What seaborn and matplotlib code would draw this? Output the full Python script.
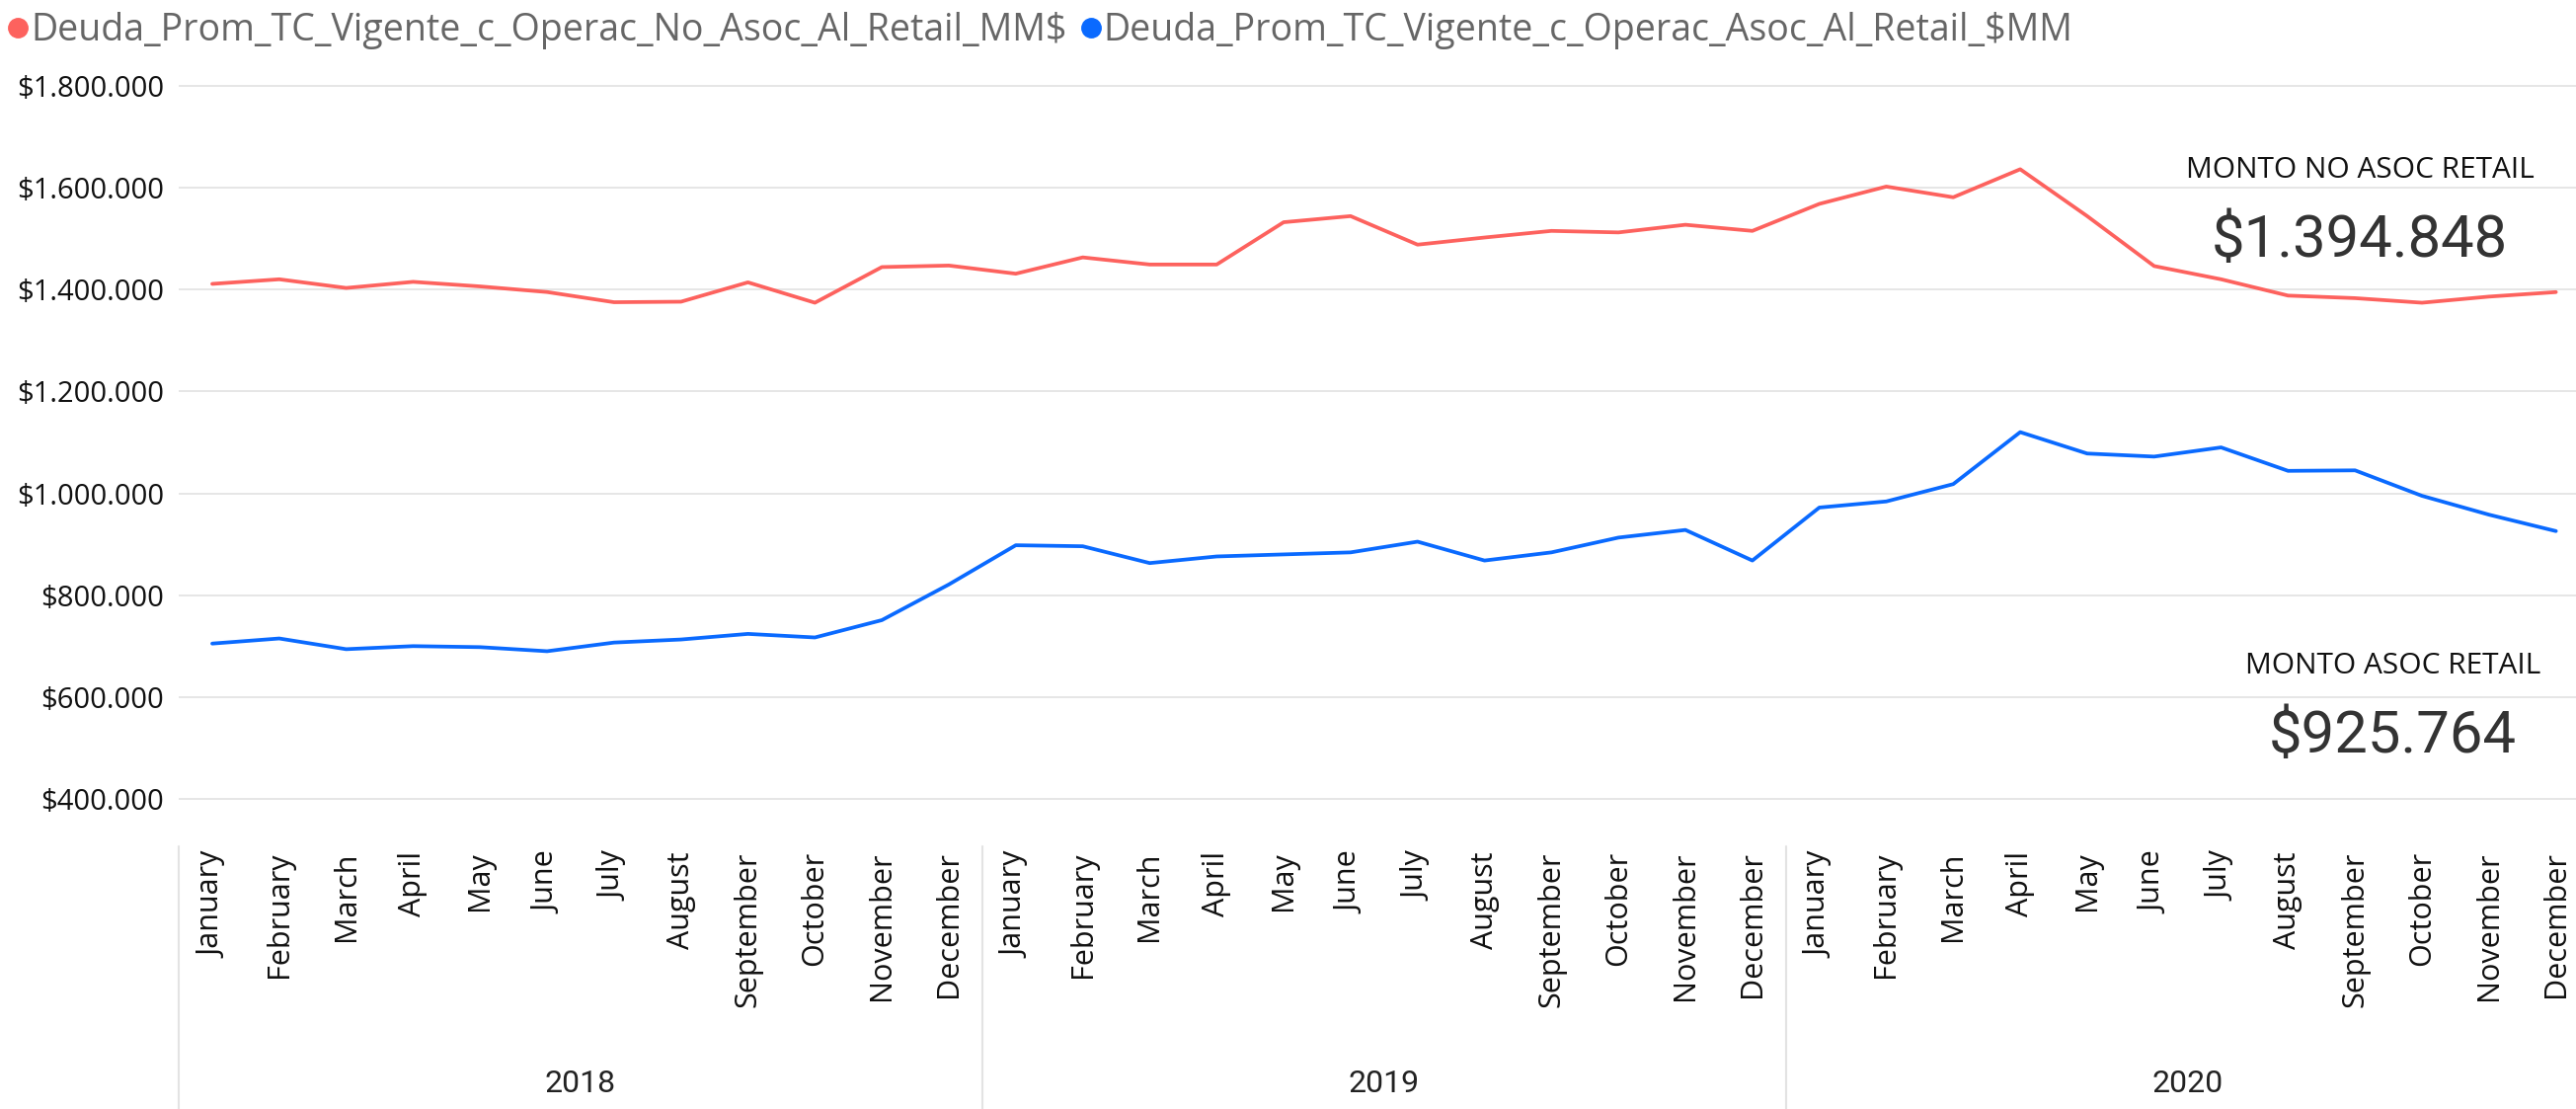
import matplotlib
matplotlib.use("Agg")
import matplotlib.pyplot as plt
import matplotlib.transforms as mtransforms
from matplotlib.lines import Line2D
from matplotlib.ticker import FuncFormatter
import pandas as pd
import seaborn as sns

# datos
years = ["2018", "2019", "2020"]
months = ["January", "February", "March", "April", "May", "June", "July",
          "August", "September", "October", "November", "December"]

serie_no_asoc = "Deuda_Prom_TC_Vigente_c_Operac_No_Asoc_Al_Retail_MM$"
serie_asoc = "Deuda_Prom_TC_Vigente_c_Operac_Asoc_Al_Retail_$MM"

no_asoc_vals = [
    1411000, 1420000, 1403000, 1415000, 1406000, 1395000, 1375000, 1376000, 1414000, 1374000, 1444000, 1447000,
    1431000, 1463000, 1449000, 1449000, 1532000, 1544000, 1488000, 1502000, 1515000, 1512000, 1527000, 1515000,
    1568000, 1602000, 1581000, 1636000, 1544000, 1446000, 1420000, 1388000, 1383000, 1374000, 1386000, 1394848,
]
asoc_vals = [
    705000, 715000, 694000, 700000, 698000, 690000, 707000, 713000, 724000, 717000, 751000, 821000,
    898000, 896000, 863000, 876000, 880000, 884000, 905000, 868000, 884000, 913000, 928000, 868000,
    972000, 984000, 1018000, 1120000, 1078000, 1072000, 1090000, 1044000, 1045000, 995000, 958000, 925764,
]

card_no_asoc = "$1.394.848"
card_asoc = "$925.764"

color_no_asoc = "#FD625E"
color_asoc = "#0A6AFF"

n = len(years) * len(months)
df = pd.DataFrame({
    "pos": list(range(n)) * 2,
    "valor": no_asoc_vals + asoc_vals,
    "serie": [serie_no_asoc] * n + [serie_asoc] * n,
})
tick_labels = months * len(years)

sns.set_theme(style="white")
plt.rcParams["font.family"] = ["Open Sans", "DejaVu Sans"]

fig = plt.figure(figsize=(26.09, 11.23), dpi=100)
ax = fig.add_axes([0.0694, 0.252, 0.9306, 0.696])

sns.lineplot(
    data=df, x="pos", y="valor", hue="serie",
    palette={serie_no_asoc: color_no_asoc, serie_asoc: color_asoc},
    linewidth=2.7, legend=False, ax=ax,
)

ax.set_xlim(-0.5, 35.3)
ax.set_ylim(340000, 1855000)
ax.set_yticks(range(400000, 1800001, 200000))
ax.yaxis.set_major_formatter(FuncFormatter(lambda v, p: "${:,.0f}".format(v).replace(",", ".")))
ax.grid(axis="y", color="#E6E6E6", linewidth=1.4)
ax.set_axisbelow(True)
for s in ax.spines.values():
    s.set_visible(False)

ax.set_xticks(range(n))
ax.set_xticklabels(tick_labels, rotation=90, va="top", ha="center")
ax.tick_params(axis="x", length=0, pad=16, labelsize=22, labelcolor="#111111")
ax.tick_params(axis="y", length=0, pad=11, labelsize=21, labelcolor="#111111")
ax.set_xlabel("")
ax.set_ylabel("")

# separadores y etiquetas de año
trans = mtransforms.blended_transform_factory(ax.transData, fig.transFigure)
for i, y in enumerate(years):
    x0 = i * 12 - 0.5
    fig.add_artist(Line2D([x0, x0], [0.0, 1 - 857 / 1123], transform=trans,
                          color="#E3E3E3", linewidth=1.5))
    fig.text(i * 12 + 5.5, 1 - 1098 / 1123, y, transform=trans, ha="center", va="center",
             fontsize=23, color="#222222", family=["Roboto", "DejaVu Sans"])

# leyenda
handles = [
    Line2D([], [], linestyle="none", marker="o", markersize=14, color=color_no_asoc),
    Line2D([], [], linestyle="none", marker="o", markersize=14, color=color_asoc),
]
fig.legend(handles, [serie_no_asoc, serie_asoc], loc="upper left", bbox_to_anchor=(-0.009, 1.009),
           ncol=2, frameon=False, fontsize=27, labelcolor="#666666",
           handletextpad=-0.15, columnspacing=0.15, handlelength=1.0, borderaxespad=0.2)

# tarjetas
card_font = ["Roboto", "DejaVu Sans"]
fig.text(2390 / 2609, 1 - 172 / 1123, "MONTO NO ASOC RETAIL", ha="center", va="center",
         fontsize=21.5, color="#111111")
fig.text(2390 / 2609, 1 - 243 / 1123, card_no_asoc, ha="center", va="center",
         fontsize=43, color="#333333", family=card_font)
fig.text(2424 / 2609, 1 - 674 / 1123, "MONTO ASOC RETAIL", ha="center", va="center",
         fontsize=21.5, color="#111111")
fig.text(2423 / 2609, 1 - 745 / 1123, card_asoc, ha="center", va="center",
         fontsize=43, color="#333333", family=card_font)

fig.savefig("out.png", dpi=100, facecolor="white")
